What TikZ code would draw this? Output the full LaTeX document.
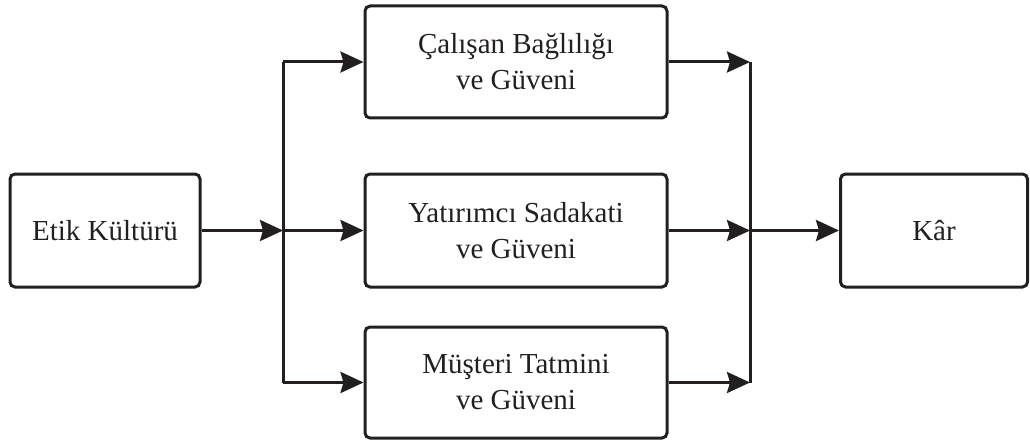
\documentclass[tikz,border=0pt]{standalone}
\usepackage{fontspec}
\setmainfont{Liberation Serif}
\usetikzlibrary{arrows.meta}
\definecolor{ink}{HTML}{231F20}
\tikzset{
  box/.style={draw=ink, line width=3pt, rounded corners=5pt, align=center,
    text=ink, font=\fontsize{29}{36}\selectfont, inner sep=0pt},
  link/.style={draw=ink, line width=3pt},
  arr/.style={link, -{Stealth[length=23pt, width=21pt, inset=3pt]}},
}
\begin{document}
\begin{tikzpicture}[x=1pt, y=-1pt]
  \useasboundingbox (0,0) rectangle (1030,441);

  % boxes
  \node[box, minimum width=190pt, minimum height=113pt] (etik) at (105,230.5) {Etik Kültürü};
  \node[box, minimum width=302pt, minimum height=112pt] (calisan) at (516,62) {Çalışan Bağlılığı\\ve Güveni};
  \node[box, minimum width=302pt, minimum height=113pt] (yatirimci) at (516,230.5) {Yatırımcı Sadakati\\ve Güveni};
  \node[box, minimum width=302pt, minimum height=111pt] (musteri) at (516,382.5) {Müşteri Tatmini\\ve Güveni};
  \node[box, minimum width=187pt, minimum height=113pt] (kar) at (934,230.5) {Kâr};

  % branching points of the two buses
  \coordinate (lt) at (283,62);
  \coordinate (lm) at (283,230.5);
  \coordinate (lb) at (283,382.5);
  \coordinate (rt) at (750,62);
  \coordinate (rm) at (750,230.5);
  \coordinate (rb) at (750,382.5);

  % left bus
  \draw[arr] (etik.east) -- (lm);
  \draw[link] (lt) -- (lb);
  \draw[arr] (lt) -- (calisan.west);
  \draw[arr] (lm) -- (yatirimci.west);
  \draw[arr] (lb) -- (musteri.west);

  % right bus
  \draw[arr] (calisan.east) -- (rt);
  \draw[arr] (yatirimci.east) -- (rm);
  \draw[arr] (musteri.east) -- (rb);
  \draw[link] (rt) -- (rb);
  \draw[arr] (rm) -- (kar.west);
\end{tikzpicture}
\end{document}
